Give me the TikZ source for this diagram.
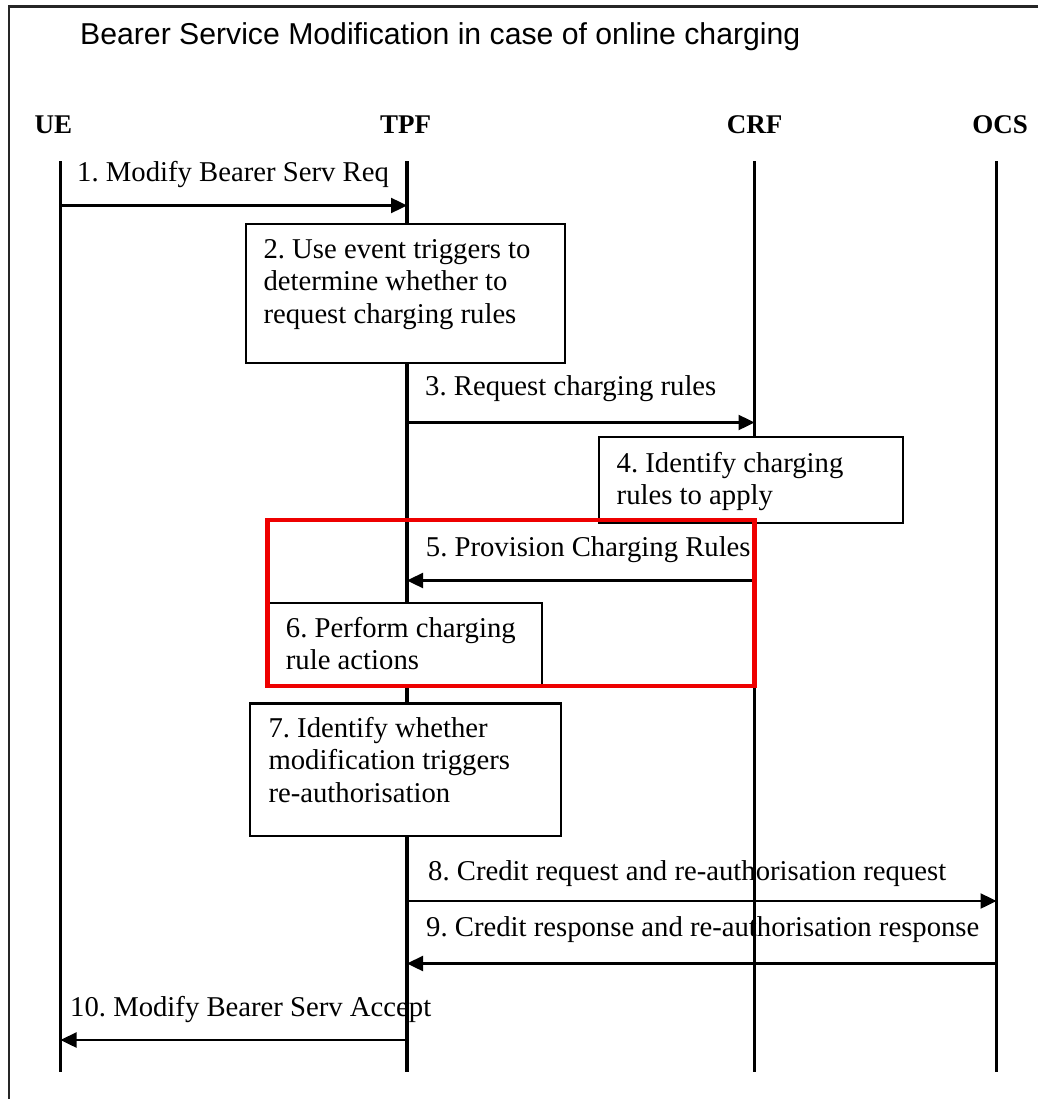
\documentclass[tikz,border=0pt]{standalone}
\usepackage{fontspec}
\setmainfont{Liberation Serif}
\newfontfamily\titlefont{Liberation Sans}
\usetikzlibrary{arrows.meta}
\definecolor{hlred}{RGB}{238,0,0}
\frenchspacing
\tikzset{
  lifeline/.style={line width=2.2pt},
  mainline/.style={line width=3.2pt},
  msg/.style={line width=2.4pt,-{Triangle[length=16pt,width=15pt]}},
  msglbl/.style={inner sep=0pt,anchor=base west,font=\fontsize{28.7}{32.5}\selectfont},
  actor/.style={inner sep=0pt,anchor=base,font=\fontsize{27}{30}\selectfont\bfseries},
  stepbox/.style={draw,line width=2.4pt,fill=white},
  boxtxt/.style={inner sep=0pt,anchor=north west,align=left,font=\fontsize{28.7}{32.5}\selectfont},
  hilite/.style={draw=hlred,line width=4.5pt}
}
\begin{document}
\begin{tikzpicture}[x=1pt,y=-1pt]
\useasboundingbox (0,0) rectangle (1038,1099);
% frame
\coordinate (ftr) at (1038,6.5);
\coordinate (ftl) at (9,6.5);
\coordinate (fbl) at (9,1099);
\draw[line width=2.6pt,black!85] (ftr) -- (ftl) -- (fbl);
% title
\node[inner sep=0pt,anchor=base west,font=\titlefont\fontsize{30.2}{34}\selectfont] (title) at (80,45) {Bearer Service Modification in case of online charging};
% actors
\node[actor] (ue) at (53.5,133.3) {UE};
\node[actor] (tpf) at (405.5,133.3) {TPF};
\node[actor] (crf) at (754.7,133.3) {CRF};
\node[actor] (ocs) at (1000,133.3) {OCS};
% lifeline ends
\coordinate (ueT) at (60.5,161.5);  \coordinate (ueB) at (60.5,1072);
\coordinate (tpfT) at (407,161.5);  \coordinate (tpfB) at (407,1072);
\coordinate (crfT) at (754.5,161.5); \coordinate (crfB) at (754.5,1072);
\coordinate (ocsT) at (996.5,161.5); \coordinate (ocsB) at (996.5,1072);
\draw[lifeline] (ueT) -- (ueB);
\draw[mainline] (tpfT) -- (tpfB);
\draw[lifeline] (crfT) -- (crfB);
\draw[lifeline] (ocsT) -- (ocsB);
% boxes
\node[stepbox,minimum width=319pt,minimum height=139pt,anchor=north west] (b2) at (245,222.7) {};
\node[boxtxt] (t2) at (263.3,238.8) {2. Use event triggers to\\determine whether to\\request charging rules};
\node[stepbox,minimum width=304pt,minimum height=86pt,anchor=north west] (b4) at (597.5,436) {};
\node[boxtxt] (t4) at (616.5,452) {4. Identify charging\\rules to apply};
\node[stepbox,minimum width=273.3pt,minimum height=84.3pt,anchor=north west] (b6) at (267.7,601.7) {};
\node[boxtxt] (t6) at (285.7,617) {6. Perform charging\\rule actions};
\node[stepbox,minimum width=311pt,minimum height=132.7pt,anchor=north west] (b7) at (249,702.3) {};
\node[boxtxt] (t7) at (268.3,717) {7. Identify whether\\modification triggers\\re-authorisation};
% message points
\coordinate (ue1) at (60.5,205.5);  \coordinate (tpf1) at (407,205.5);
\coordinate (tpf3) at (407,422.5);  \coordinate (crf3) at (754.5,422.5);
\coordinate (crf5) at (754.5,580.5); \coordinate (tpf5) at (407,580.5);
\coordinate (tpf8) at (407,901);    \coordinate (ocs8) at (996.5,901);
\coordinate (ocs9) at (996.5,963.5); \coordinate (tpf9) at (407,963.5);
\coordinate (tpf10) at (407,1040);  \coordinate (ue10) at (60.5,1040);
\draw[msg] (ue1) -- (tpf1);
\draw[msg] (tpf3) -- (crf3);
\draw[msg] (crf5) -- (tpf5);
\draw[msg] (tpf8) -- (ocs8);
\draw[msg] (ocs9) -- (tpf9);
\draw[msg] (tpf10) -- (ue10);
% message labels
\node[msglbl] (m1) at (77,181.7) {1. Modify Bearer Serv Req};
\node[msglbl] (m3) at (425,395) {3. Request charging rules};
\node[msglbl] (m5) at (425.7,556.7) {5. Provision Charging Rules};
\node[msglbl] (m8) at (428,880) {8. Credit request and re-authorisation request};
\node[msglbl] (m9) at (426,936.7) {9. Credit response and re-authorisation response};
\node[msglbl] (m10) at (70,1016.7) {10. Modify Bearer Serv Accept};
% highlight
\coordinate (rTL) at (267.7,520);
\coordinate (rBR) at (754.5,686);
\draw[hilite] (rTL) rectangle (rBR);
\end{tikzpicture}
\end{document}
